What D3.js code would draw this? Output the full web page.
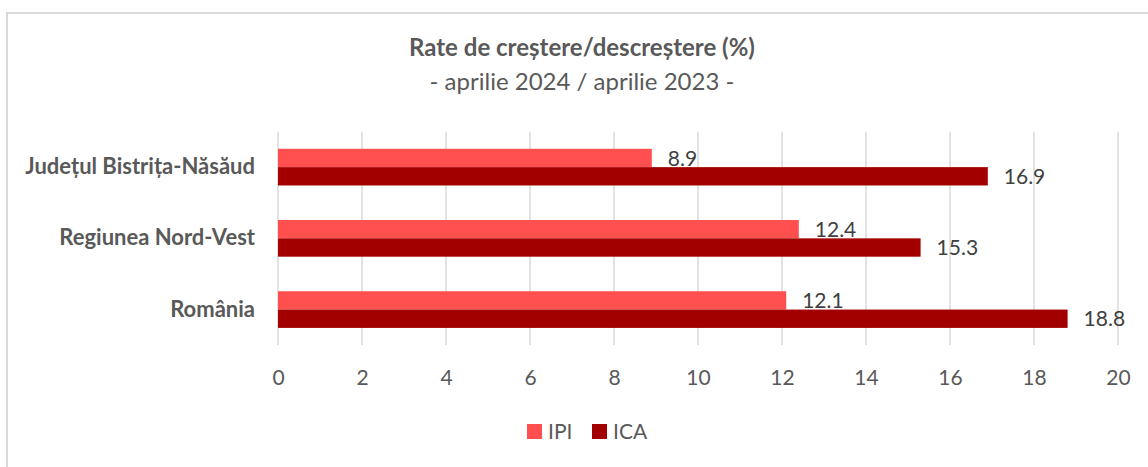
<!DOCTYPE html>
<html>
<head>
<meta charset="utf-8">
<script src="https://cdn.jsdelivr.net/npm/d3@7"></script>
<style>
  html, body { margin: 0; padding: 0; background: #ffffff; }
  svg { display: block; font-family: Lato, "Liberation Sans", sans-serif; }
</style>
</head>
<body>
<svg id="chart" width="1148" height="467"></svg>
<script>
const title = "Rate de creștere/descreștere (%)";
const subtitle = "- aprilie 2024 / aprilie 2023 -";
const categories = ["Județul Bistrița-Năsăud", "Regiunea Nord-Vest", "România"];
const seriesNames = ["IPI", "ICA"];
const ipiValues = [8.9, 12.4, 12.1];
const icaValues = [16.9, 15.3, 18.8];
const tickValues = [0, 2, 4, 6, 8, 10, 12, 14, 16, 18, 20];
const colors = ["#FF4F4F", "#A20000"];

const svg = d3.select("#chart");
svg.append("rect").attr("width", 1148).attr("height", 467).attr("fill", "#fff");
svg.append("rect").attr("x", 7).attr("y", 13).attr("width", 1160).attr("height", 480)
  .attr("fill", "none").attr("stroke", "#d9d9d9").attr("stroke-width", 2);

svg.append("text").attr("x", 582).attr("y", 56).attr("text-anchor", "middle")
  .attr("font-weight", "bold").attr("font-size", 24).attr("fill", "#595959").text(title);
svg.append("text").attr("x", 582).attr("y", 90).attr("text-anchor", "middle")
  .attr("font-size", 24).attr("fill", "#595959").text(subtitle);

const x = d3.scaleLinear().domain([0, 20]).range([278, 1118]);
const y = d3.scaleBand().domain(categories).range([131.7, 345]).paddingInner(0.485).paddingOuter(0.24);
const ySub = d3.scaleBand().domain(seriesNames).range([0, y.bandwidth()]);

// gridlines
svg.append("g").selectAll("line").data(tickValues).join("line")
  .attr("x1", d => x(d)).attr("x2", d => x(d))
  .attr("y1", 131.7).attr("y2", 345)
  .attr("stroke", "#d9d9d9").attr("stroke-width", 1.5);

// x tick labels
const xAxis = svg.append("g").attr("transform", "translate(0,345)")
  .call(d3.axisBottom(x).tickValues(tickValues).tickSize(0).tickPadding(0).tickFormat(d3.format("d")));
xAxis.select(".domain").remove();
xAxis.selectAll("text").attr("y", 40).attr("dy", 0)
  .attr("font-family", "Lato, sans-serif").attr("font-size", 21).attr("fill", "#595959");

// y category labels
const yAxis = svg.append("g").attr("transform", "translate(278,0)")
  .call(d3.axisLeft(y).tickSize(0).tickPadding(23));
yAxis.select(".domain").remove();
yAxis.selectAll("text").attr("font-family", "Lato, sans-serif").attr("font-size", 22)
  .attr("font-weight", "bold").attr("fill", "#595959");

const rows = categories.map((c, i) => ({ cat: c, vals: [ipiValues[i], icaValues[i]] }));
const groups = svg.append("g").selectAll("g").data(rows).join("g")
  .attr("transform", d => `translate(0,${y(d.cat)})`);

groups.selectAll("rect").data(d => d.vals.map((v, j) => ({ v, s: seriesNames[j], j }))).join("rect")
  .attr("x", x(0)).attr("y", d => ySub(d.s))
  .attr("width", d => x(d.v) - x(0)).attr("height", ySub.bandwidth())
  .attr("fill", d => colors[d.j]);

groups.selectAll("text.val").data(d => d.vals.map((v, j) => ({ v, s: seriesNames[j], j }))).join("text")
  .attr("class", "val")
  .attr("x", d => x(d.v) + 16).attr("y", d => ySub(d.s) + ySub.bandwidth() / 2)
  .attr("dy", "0.36em")
  .attr("font-size", 21).attr("fill", "#404040")
  .text(d => d3.format(".1f")(d.v));

// legend
const legendX = [527, 592];
const leg = svg.append("g").selectAll("g").data(seriesNames).join("g")
  .attr("transform", (d, i) => `translate(${legendX[i]},424)`);
leg.append("rect").attr("width", 15).attr("height", 15).attr("fill", (d, i) => colors[i]);
leg.append("text").attr("x", 21).attr("y", 7.5).attr("dy", "0.36em")
  .attr("font-size", 21).attr("fill", "#595959").text(d => d);
</script>
</body>
</html>
